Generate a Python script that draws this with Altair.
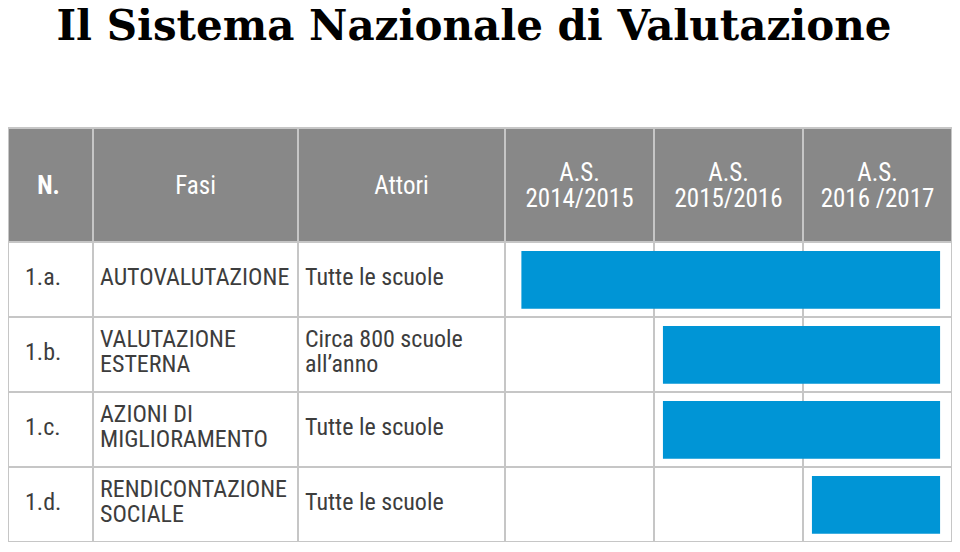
import altair as alt
import pandas as pd

# ---------------- data ----------------
title_text = "Il Sistema Nazionale di Valutazione"
header_labels = [["N."], ["Fasi"], ["Attori"],
                 ["A.S.", "2014/2015"], ["A.S.", "2015/2016"], ["A.S.", "2016 /2017"]]
codes = ["1.a.", "1.b.", "1.c.", "1.d."]
fasi = [["AUTOVALUTAZIONE"], ["VALUTAZIONE", "ESTERNA"],
        ["AZIONI DI", "MIGLIORAMENTO"], ["RENDICONTAZIONE", "SOCIALE"]]
attori = [["Tutte le scuole"], ["Circa 800 scuole", "all\u2019anno"],
          ["Tutte le scuole"], ["Tutte le scuole"]]
bar_start = [2014.11, 2015.06, 2015.06, 2016.06]
bar_end = [2016.92, 2016.92, 2016.92, 2016.92]
year_domain = [2014, 2017]

# ---------------- layout ----------------
col_widths = [85, 205, 207, 149, 149, 149]
edges = [0]
for w in col_widths:
    edges.append(edges[-1] + w)
W = edges[-1]            # 944
ROW_PX = 75
HEADER_PX = 114
TOP_PX = 120             # space above the table (title area)
n_rows = len(codes)
H = TOP_PX + HEADER_PX + n_rows * ROW_PX   # 534
header_h = HEADER_PX / ROW_PX               # header height in row units
y_top = -(TOP_PX + HEADER_PX) / ROW_PX      # top of the plot area in row units

SANS = "Liberation Sans Narrow, Roboto Condensed, DejaVu Sans Condensed, Liberation Sans, sans-serif"
HEADER_FILL = "#888888"
GRID = "#c6c6c6"
BAR = "#0095d6"
TXT = "#3d3d3d"

xs = alt.Scale(domain=[0, W], nice=False, zero=False)
ys = alt.Scale(domain=[y_top, n_rows], reverse=True, nice=False, zero=False)


def lines_df(x_list, center_list, label_lists, line_px):
    recs = []
    for x, c, labels in zip(x_list, center_list, label_lists):
        n = len(labels)
        for k, t in enumerate(labels):
            off = (k - (n - 1) / 2) * line_px / ROW_PX
            recs.append({"x": x, "y": c + off, "t": t})
    return pd.DataFrame(recs)


# header background
header_bg = alt.Chart(pd.DataFrame({"x": [0], "x2": [W], "y": [-header_h], "y2": [0]})).mark_rect(
    color=HEADER_FILL
).encode(
    x=alt.X("x:Q", scale=xs, axis=None), x2="x2:Q",
    y=alt.Y("y:Q", scale=ys, axis=None), y2="y2:Q",
)

# vertical grid lines
vlines = alt.Chart(pd.DataFrame({"x": edges, "y": [-header_h] * len(edges), "y2": [n_rows] * len(edges)})).mark_rule(
    color=GRID, strokeWidth=2
).encode(
    x=alt.X("x:Q", scale=xs, axis=None),
    y=alt.Y("y:Q", scale=ys, axis=None), y2="y2:Q",
)

# horizontal grid lines
hl = [-header_h] + list(range(n_rows + 1))
hlines = alt.Chart(pd.DataFrame({"y": hl, "x": [0] * len(hl), "x2": [W] * len(hl)})).mark_rule(
    color=GRID, strokeWidth=2
).encode(
    x=alt.X("x:Q", scale=xs, axis=None), x2="x2:Q",
    y=alt.Y("y:Q", scale=ys, axis=None),
)

# header labels
hx = [edges[i] + col_widths[i] / 2 for i in range(len(col_widths))]
hx[0] -= 2
hc = [-header_h / 2 + 0.01] * len(col_widths)
hbold = lines_df(hx[:1], hc[:1], header_labels[:1], 26)
hreg = lines_df(hx[1:], hc[1:], header_labels[1:], 26)
header_bold = alt.Chart(hbold).mark_text(
    font=SANS, fontSize=25, fontWeight="bold", color="white", baseline="middle", align="center"
).encode(x=alt.X("x:Q", scale=xs, axis=None), y=alt.Y("y:Q", scale=ys, axis=None), text="t")
header_reg = alt.Chart(hreg).mark_text(
    font=SANS, fontSize=25, color="white", baseline="middle", align="center"
).encode(x=alt.X("x:Q", scale=xs, axis=None), y=alt.Y("y:Q", scale=ys, axis=None), text="t")

# body labels
rows = list(range(n_rows))
centers = [r + 0.5 - 2 / ROW_PX for r in rows]
code_df = lines_df([17] * n_rows, centers, [[c] for c in codes], 25)
fasi_df = lines_df([edges[1] + 7] * n_rows, centers, fasi, 25)
att_df = lines_df([edges[2] + 7] * n_rows, centers, attori, 25)
body_df = pd.concat([code_df, fasi_df, att_df], ignore_index=True)
body = alt.Chart(body_df).mark_text(
    font=SANS, fontSize=24, color=TXT, baseline="middle", align="left"
).encode(x=alt.X("x:Q", scale=xs, axis=None), y=alt.Y("y:Q", scale=ys, axis=None), text="t")

# title
title = alt.Chart(pd.DataFrame({"t": [title_text]})).mark_text(
    font="DejaVu Serif", fontSize=42, fontWeight="bold", color="black",
    align="center", baseline="alphabetic"
).encode(x=alt.value(466), y=alt.value(32), text="t")

table = alt.layer(header_bg, vlines, hlines, header_bold, header_reg, body, title)

# gantt bars (own year scale mapped onto the three year columns)
bdf = pd.DataFrame({"row": rows, "start": bar_start, "end": bar_end})
bars = alt.Chart(bdf).transform_calculate(
    y0="datum.row + 0.12", y1="datum.row + 0.89"
).mark_rect(color=BAR).encode(
    x=alt.X("start:Q", scale=alt.Scale(domain=year_domain, range=[edges[3], W], nice=False, zero=False), axis=None),
    x2="end:Q",
    y=alt.Y("y0:Q", scale=ys, axis=None), y2="y1:Q",
)

chart = alt.layer(table, bars).resolve_scale(x="independent").properties(
    width=W, height=H, padding=0, autosize=alt.AutoSizeParams(type="none")
).configure_view(stroke=None)

chart.save("out.html", embed_options={"renderer": "svg", "actions": False})
